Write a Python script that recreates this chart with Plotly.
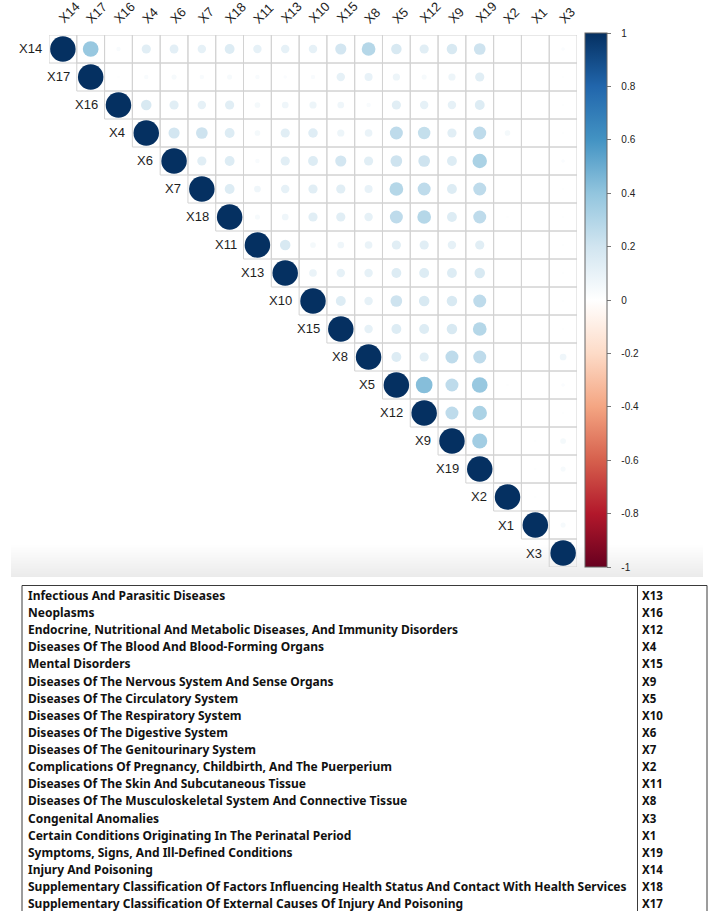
import plotly.graph_objects as go

W, H = 724, 911

# Variable order used on both axes of the correlation plot
variables = ["X14", "X17", "X16", "X4", "X6", "X7", "X18", "X11", "X13", "X10",
             "X15", "X8", "X5", "X12", "X9", "X19", "X2", "X1", "X3"]

# Upper-triangle correlations: each row lists r with the variables to its right
r_X14 = [0.38, 0.03, 0.13, 0.12, 0.11, 0.15, 0.11, 0.11, 0.11, 0.19, 0.29, 0.17, 0.13, 0.17, 0.21, 0.00, 0.00, 0.02]
r_X17 = [0.01, 0.03, 0.04, 0.03, 0.04, 0.03, 0.02, 0.03, 0.11, 0.10, 0.08, 0.04, 0.08, 0.13, 0.00, 0.00, 0.01]
r_X16 = [0.17, 0.13, 0.11, 0.13, 0.05, 0.07, 0.08, 0.07, 0.03, 0.13, 0.11, 0.11, 0.15, 0.00, 0.00, 0.01]
r_X4 = [0.19, 0.21, 0.15, 0.05, 0.13, 0.14, 0.08, 0.09, 0.26, 0.24, 0.13, 0.26, 0.05, 0.00, 0.01]
r_X6 = [0.13, 0.15, 0.03, 0.13, 0.15, 0.19, 0.13, 0.21, 0.21, 0.15, 0.32, 0.00, 0.00, 0.02]
r_X7 = [0.15, 0.07, 0.11, 0.13, 0.13, 0.10, 0.29, 0.26, 0.15, 0.26, 0.00, 0.00, 0.01]
r_X18 = [0.04, 0.07, 0.13, 0.13, 0.11, 0.26, 0.29, 0.15, 0.26, 0.01, 0.00, 0.01]
r_X11 = [0.17, 0.05, 0.07, 0.09, 0.13, 0.13, 0.11, 0.13, 0.00, 0.00, 0.01]
r_X13 = [0.09, 0.11, 0.11, 0.15, 0.15, 0.15, 0.17, 0.00, 0.00, 0.01]
r_X10 = [0.15, 0.11, 0.21, 0.17, 0.17, 0.26, 0.00, 0.00, 0.01]
r_X15 = [0.11, 0.15, 0.15, 0.17, 0.29, 0.00, 0.00, 0.01]
r_X8 = [0.15, 0.13, 0.26, 0.26, 0.00, 0.00, 0.07]
r_X5 = [0.43, 0.26, 0.38, 0.01, 0.00, 0.02]
r_X12 = [0.26, 0.32, 0.00, 0.00, 0.01]
r_X9 = [0.35, 0.00, 0.01, 0.05]
r_X19 = [0.00, 0.01, 0.04]
r_X2 = [0.01, 0.00]
r_X1 = [0.04]
r_X3 = []

upper_rows = [r_X14, r_X17, r_X16, r_X4, r_X6, r_X7, r_X18, r_X11, r_X13, r_X10,
              r_X15, r_X8, r_X5, r_X12, r_X9, r_X19, r_X2, r_X1, r_X3]

colorbar_ticks = [1, 0.8, 0.6, 0.4, 0.2, 0, -0.2, -0.4, -0.6, -0.8, -1]
colorbar_ticktext = ["1", "0.8", "0.6", "0.4", "0.2", "0", "-0.2", "-0.4", "-0.6", "-0.8", "-1"]

# Legend table: cause-of-death category and its variable code
categories = [
    "Infectious And Parasitic Diseases",
    "Neoplasms",
    "Endocrine, Nutritional And Metabolic Diseases, And Immunity Disorders",
    "Diseases Of The Blood And Blood-Forming Organs",
    "Mental Disorders",
    "Diseases Of The Nervous System And Sense Organs",
    "Diseases Of The Circulatory System",
    "Diseases Of The Respiratory System",
    "Diseases Of The Digestive System",
    "Diseases Of The Genitourinary System",
    "Complications Of Pregnancy, Childbirth, And The Puerperium",
    "Diseases Of The Skin And Subcutaneous Tissue",
    "Diseases Of The Musculoskeletal System And Connective Tissue",
    "Congenital Anomalies",
    "Certain Conditions Originating In The Perinatal Period",
    "Symptoms, Signs, And Ill-Defined Conditions",
    "Injury And Poisoning",
    "Supplementary Classification Of Factors Influencing Health Status And Contact With Health Services",
    "Supplementary Classification Of External Causes Of Injury And Poisoning",
]
codes = ["X13", "X16", "X12", "X4", "X15", "X9", "X5", "X10", "X6", "X7",
         "X2", "X11", "X8", "X3", "X1", "X19", "X14", "X18", "X17"]

# corrplot-style red-blue diverging palette
rdbu = ["#67001F", "#B2182B", "#D6604D", "#F4A582", "#FDDBC7", "#FFFFFF",
        "#D1E5F0", "#92C5DE", "#4393C3", "#2166AC", "#053061"]
colorscale = [[i / 10, c] for i, c in enumerate(rdbu)]

# Assemble points (diagonal r = 1 plus the upper triangle)
n = len(variables)
xs, ys, vals = [], [], []
for i in range(n):
    xs.append(i); ys.append(i); vals.append(1.0)
    for k, v in enumerate(upper_rows[i]):
        xs.append(i + 1 + k); ys.append(i); vals.append(v)

full_diam = 25.5  # marker diameter (px) for |r| = 1; area proportional to |r|
sizes = [full_diam * abs(v) ** 0.5 for v in vals]

# Correlation panel position in pixels
px_l, px_r, px_t, px_b = 49, 577, 35, 567

fig = go.Figure()

# Correlation circles live on x2/y2 so they draw above the page-level (x/y) layer
fig.add_trace(go.Scatter(
    x=xs, y=ys, mode="markers",
    marker=dict(
        size=sizes, color=vals, colorscale=colorscale, cmin=-1, cmax=1,
        line=dict(width=0), opacity=1,
        colorbar=dict(
            x=585 / W, xanchor="left", y=1 - 33 / H, yanchor="top",
            len=534, lenmode="pixels", thickness=22, thicknessmode="pixels",
            xpad=0, ypad=0, outlinewidth=1, outlinecolor="#666666",
            tickvals=colorbar_ticks,
            ticktext=["\u00a0\u00a0\u00a0" + t for t in colorbar_ticktext],
            ticks="outside", ticklen=4, tickcolor="#777777",
            tickfont=dict(family="Liberation Sans, Arial", size=10, color="#222222"),
        ),
    ),
    hoverinfo="skip", showlegend=False, xaxis="x2", yaxis="y2",
))

shapes = []

# Soft grey shading under the bottom edge of the plot panel
band_top, band_bot = 545, 577
steps = band_bot - band_top
for s in range(steps):
    g = int(round(255 - (255 - 235) * (s + 1) / steps))
    shapes.append(dict(type="rect", xref="x", yref="y", x0=11, x1=703,
                       y0=band_top + s, y1=band_top + s + 1,
                       line=dict(width=0), fillcolor=f"rgb({g},{g},{g})", layer="below"))

# Cell outlines of the upper triangle
for i in range(n):
    for j in range(i, n):
        shapes.append(dict(type="rect", xref="x2", yref="y2",
                           x0=j - 0.5, x1=j + 0.5, y0=i - 0.5, y1=i + 0.5,
                           line=dict(color="#d2d2d2", width=1), fillcolor="rgba(0,0,0,0)",
                           layer="below"))

# Table frame
tl, tr, tt, tb, tdiv = 22, 707, 585.5, 915, 637.5
frame = dict(color="#3a3a3a", width=1)
shapes += [
    dict(type="line", xref="x", yref="y", x0=tl, x1=tr, y0=tt, y1=tt, line=frame),
    dict(type="line", xref="x", yref="y", x0=tl, x1=tl, y0=tt, y1=tb, line=frame),
    dict(type="line", xref="x", yref="y", x0=tr, x1=tr, y0=tt, y1=tb, line=frame),
    dict(type="line", xref="x", yref="y", x0=tdiv, x1=tdiv, y0=tt, y1=tb, line=frame),
]

annotations = []
label_font = dict(family="Liberation Sans, Arial", size=13, color="#1e1e1e")
# Row labels sit just left of each diagonal cell
for i, name in enumerate(variables):
    annotations.append(dict(x=i - 0.5, y=i, xref="x2", yref="y2", text=name,
                            showarrow=False, xanchor="right", yanchor="middle",
                            xshift=-5, font=label_font))
# Column labels, slanted above the top edge
for j, name in enumerate(variables):
    annotations.append(dict(x=j, y=-0.5, xref="x2", yref="y2", text=name,
                            showarrow=False, textangle=-45, xanchor="left", yanchor="bottom",
                            xshift=-10, yshift=6, font=label_font))

# Table rows
row0, row_step = 595.5, 17.12
table_font = dict(family="Noto Sans", size=12.0, color="#111111")
for k, (cat, code) in enumerate(zip(categories, codes)):
    y = row0 + k * row_step
    annotations.append(dict(x=26, y=y, xref="x", yref="y", text=f"<b>{cat}</b>",
                            showarrow=False, xanchor="left", yanchor="middle", font=table_font))
    annotations.append(dict(x=640, y=y, xref="x", yref="y", text=f"<b>{code}</b>",
                            showarrow=False, xanchor="left", yanchor="middle",
                            font=dict(family="Noto Sans", size=11.5, color="#111111")))

fig.update_layout(
    width=W, height=H,
    margin=dict(l=0, r=0, t=0, b=0),
    paper_bgcolor="white", plot_bgcolor="rgba(0,0,0,0)",
    # page-level pixel frame for the shading and the table
    xaxis=dict(domain=[0, 1], range=[0, W], visible=False, anchor="y", fixedrange=True),
    yaxis=dict(domain=[0, 1], range=[H, 0], visible=False, anchor="x", fixedrange=True),
    # correlation panel
    xaxis2=dict(domain=[px_l / W, px_r / W], range=[-0.5, n - 0.5],
                showticklabels=False, ticks="", showgrid=False,
                zeroline=False, showline=False, anchor="y2", fixedrange=True),
    yaxis2=dict(domain=[1 - px_b / H, 1 - px_t / H], range=[n - 0.5, -0.5],
                showticklabels=False, ticks="", showgrid=False, zeroline=False,
                showline=False, anchor="x2", fixedrange=True),
    shapes=shapes,
    annotations=annotations,
)

fig.write_html("out.html")
